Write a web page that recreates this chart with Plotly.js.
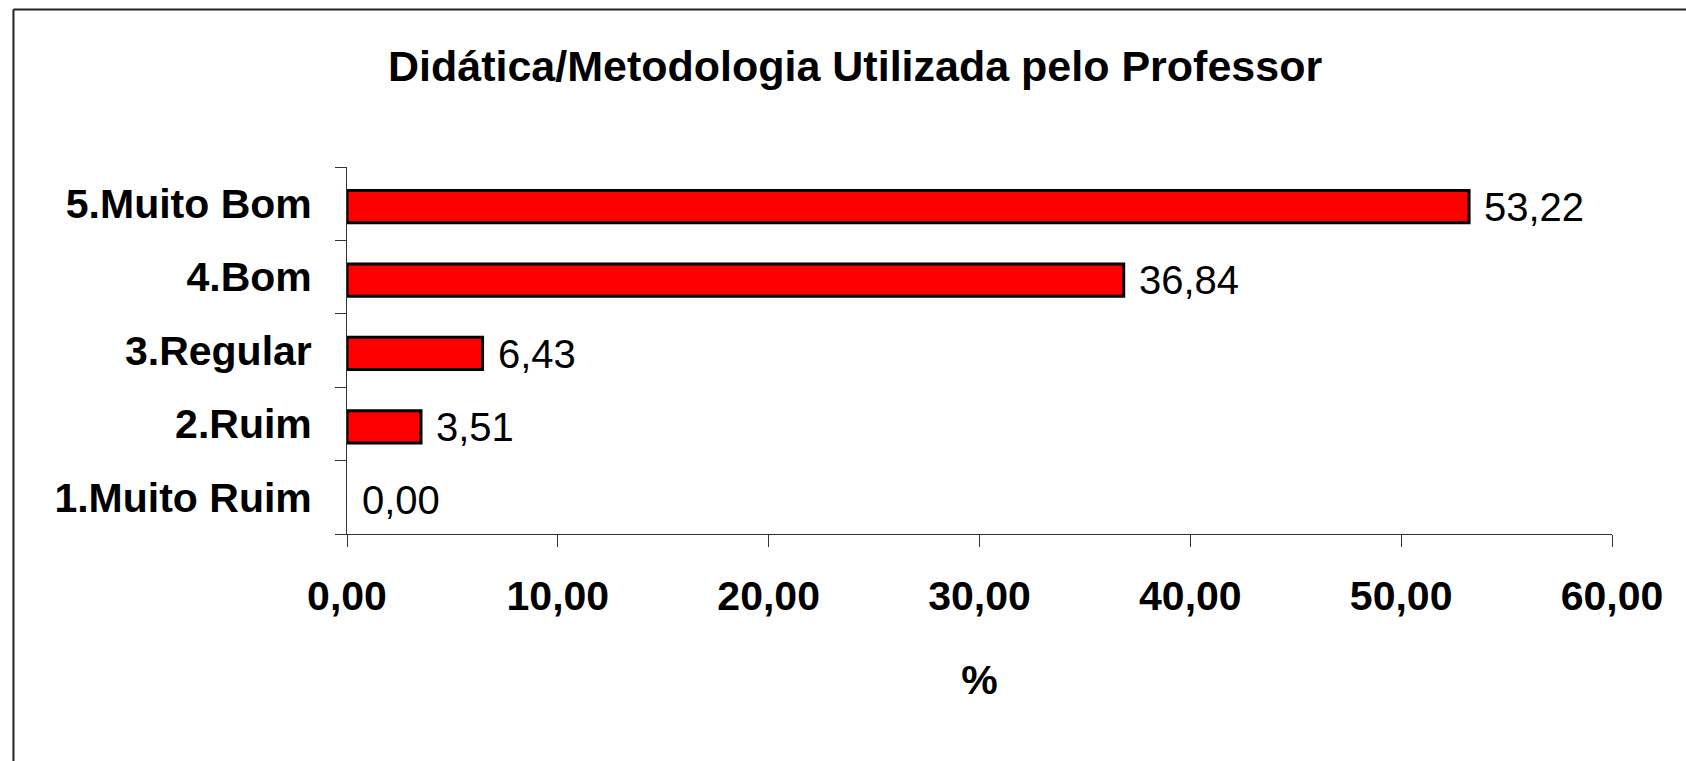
<!DOCTYPE html>
<html>
<head>
<meta charset="utf-8">
<script src="https://cdn.plot.ly/plotly-3.0.1.min.js"></script>
<style>
  html, body { margin: 0; padding: 0; background: #ffffff; }
  #chart { width: 1686px; height: 761px; }
</style>
</head>
<body>
<div id="chart"></div>
<script>
// Data
const categories = ["1.Muito Ruim", "2.Ruim", "3.Regular", "4.Bom", "5.Muito Bom"];
const values = [0.00, 3.51, 6.43, 36.84, 53.22];
const xTickVals = [0, 10, 20, 30, 40, 50, 60];
const xTickText = ["0,00", "10,00", "20,00", "30,00", "40,00", "50,00", "60,00"];
const chartTitle = "Didática/Metodologia Utilizada pelo Professor";
const xAxisTitle = "%";

const fmt = v => v.toFixed(2).replace(".", ",");

const W = 1686, H = 761;
const L = 346.7, R = 1612.3, T = 166.7, B = 534;
const pw = R - L, ph = B - T;

const trace = {
  type: "bar",
  orientation: "h",
  x: values,
  y: categories,
  width: 0.44,
  offset: -0.26,
  marker: {
    color: "#FF0000",
    line: { color: "#000000", width: values.map(v => (v > 0 ? 3 : 0)) }
  },
  hoverinfo: "x+y",
  showlegend: false
};

const annotations = values.map((v, i) => ({
  x: v, y: categories[i], xref: "x", yref: "y",
  text: fmt(v), showarrow: false,
  xanchor: "left", yanchor: "middle", xshift: 13, yshift: -3,
  font: { family: "Liberation Sans, Arial, sans-serif", size: 40, color: "#000000" }
}));

const layout = {
  width: W, height: H,
  margin: { l: L, r: W - R, t: T, b: H - B, pad: 0 },
  paper_bgcolor: "#ffffff",
  plot_bgcolor: "#ffffff",
  separators: ",.",
  title: {
    text: chartTitle,
    font: { family: "Liberation Sans, Arial, sans-serif", size: 43, color: "#000000", weight: "bold" },
    xref: "paper", x: (855 - L) / pw, xanchor: "center",
    yref: "container", y: 1 - 66 / H, yanchor: "middle"
  },
  xaxis: {
    range: [0, 60],
    tickvals: xTickVals, ticktext: xTickText,
    ticks: "outside", ticklen: 12, tickwidth: 1, tickcolor: "#333333",
    showline: true, linecolor: "#333333", linewidth: 1,
    showgrid: false, zeroline: false,
    tickfont: { family: "Liberation Sans, Arial, sans-serif", size: 41, color: "#000000", weight: "bold" },
    ticklabelstandoff: 14,
    title: {
      text: xAxisTitle,
      font: { family: "Liberation Sans, Arial, sans-serif", size: 41, color: "#000000", weight: "bold" },
      standoff: 47
    },
    fixedrange: true
  },
  yaxis: {
    type: "category",
    categoryorder: "array", categoryarray: categories,
    range: [-0.5, 4.5],
    tickson: "boundaries",
    ticks: "outside", ticklen: 11, tickwidth: 1, tickcolor: "#333333",
    showline: true, linecolor: "#333333", linewidth: 1,
    showgrid: false, zeroline: false,
    tickfont: { family: "Liberation Sans, Arial, sans-serif", size: 41, color: "#000000", weight: "bold" },
    ticklabelstandoff: 26,
    fixedrange: true
  },
  annotations: annotations,
  shapes: [
    { type: "line", xref: "paper", yref: "paper",
      x0: (13 - L) / pw, x1: (W + 5 - L) / pw, y0: 1 + (T - 9) / ph, y1: 1 + (T - 9) / ph,
      line: { color: "#222222", width: 2 } },
    { type: "line", xref: "paper", yref: "paper",
      x0: (13 - L) / pw, x1: (13 - L) / pw, y0: 1 + (T - 9) / ph, y1: -(H + 5 - B) / ph,
      line: { color: "#222222", width: 2 } }
  ]
};

Plotly.newPlot("chart", [trace], layout, { displayModeBar: false, staticPlot: true });
</script>
</body>
</html>
